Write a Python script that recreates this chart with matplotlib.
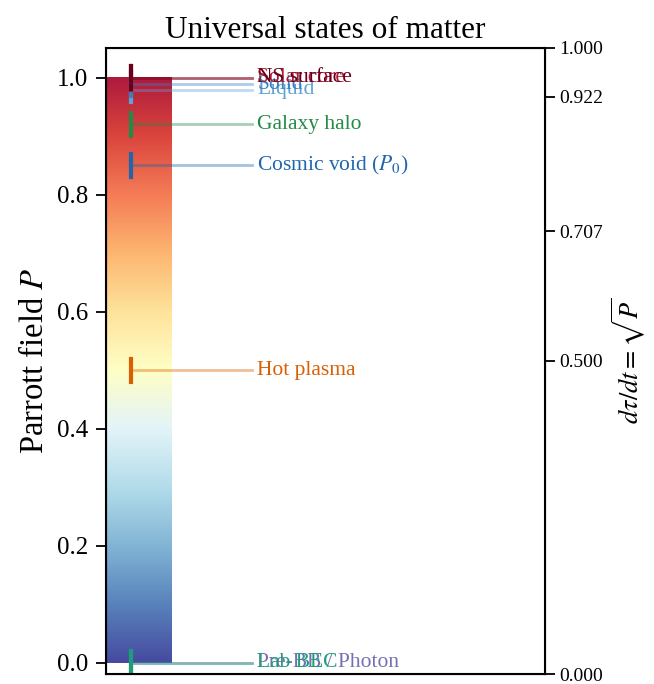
import numpy as np
import matplotlib
matplotlib.use('Agg')
import matplotlib.pyplot as plt

plt.rcParams['font.family'] = ['Liberation Serif', 'DejaVu Serif']
plt.rcParams['mathtext.fontset'] = 'stix'

# States and their Parrott field values (ascending, drawn in this order)
state_names = ["Pre-BB / Photon", "Lab BEC", "Hot plasma", "Cosmic void ($P_0$)",
               "Galaxy halo", "Liquid", "Solid", "Solar core", "NS surface"]
state_P = [0.0, 0.0, 0.5, 0.85, 0.92, 0.979, 0.989, 0.9995, 1.0]
state_colors = ["#7570b3", "#1b9e77", "#d95f02", "#2166ac", "#238b45",
                "#5fa3d6", "#3a7fbf", "#b2182b", "#67001f"]

# Right axis ticks (sqrt of P)
right_ticks = [0.0, 0.5, 0.707, 0.922, 1.0]

fig = plt.figure(figsize=(6.54, 6.84), dpi=100)
ax = fig.add_axes([0.162, 0.0146, 0.671, 0.9155])

# colour bar of the field
grad = np.linspace(0, 1, 256).reshape(-1, 1)
ax.imshow(grad, cmap='RdYlBu_r', origin='lower', aspect='auto',
          extent=[0, 0.15, 0, 1], alpha=0.9)

x_mark = 0.057
x_line_end = 0.333
x_text = 0.345
for name, p, c in zip(state_names, state_P, state_colors):
    ax.plot([x_mark, x_line_end], [p, p], color=c, lw=2.0, alpha=0.4)
    ax.plot([x_mark, x_mark], [p - 0.02, p + 0.02], color=c, lw=3.0)
    ax.text(x_text, p, name, color=c, fontsize=15.5, va='center', ha='left')

ax.set_xlim(0, 1)
ax.set_ylim(-0.019, 1.051)
ax.set_xticks([])
ax.set_yticks([0.0, 0.2, 0.4, 0.6, 0.8, 1.0])
ax.tick_params(axis='y', labelsize=18, length=7, width=1.3, pad=6)
ax.set_ylabel("Parrott field $P$", fontsize=23.5, labelpad=5)
ax.set_title("Universal states of matter", fontsize=22.5, pad=7)
for s in ax.spines.values():
    s.set_linewidth(1.5)

ax2 = ax.twinx()
ax2.set_ylim(0, 1)
ax2.set_yticks(right_ticks)
ax2.set_yticklabels(["%.3f" % t for t in right_ticks])
ax2.tick_params(axis='y', labelsize=14, length=7, width=1.3)
ax2.set_ylabel(r"$d\tau/dt = \sqrt{P}$", fontsize=19, labelpad=5)

fig.savefig("out.png", dpi=100)
